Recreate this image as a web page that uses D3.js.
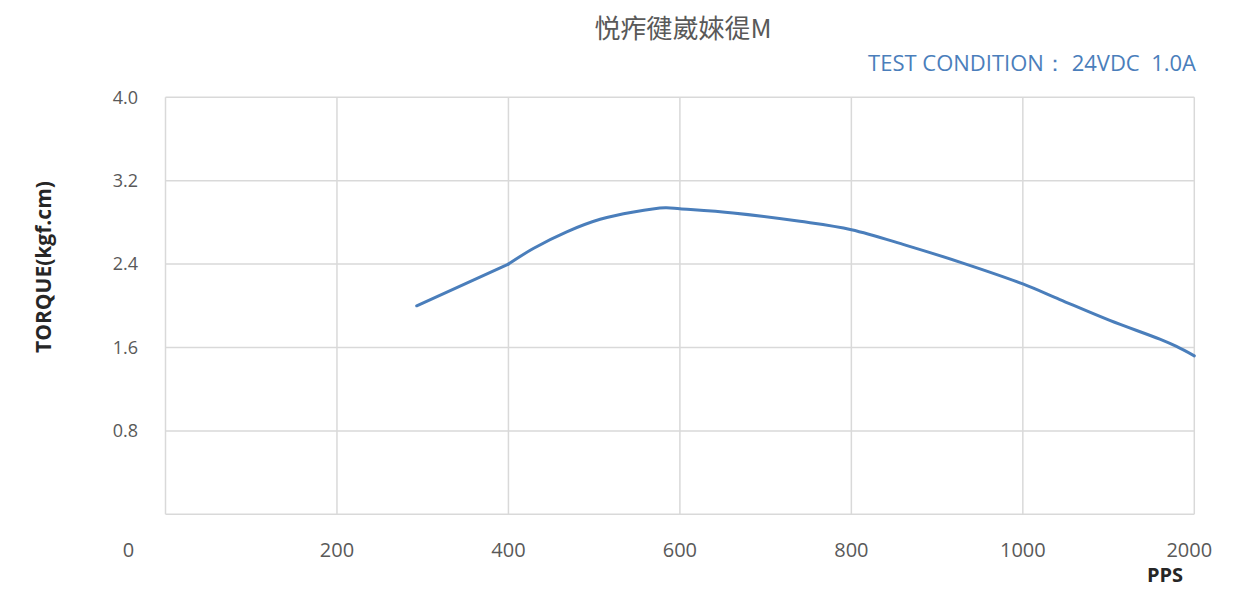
<!DOCTYPE html>
<html><head><meta charset="utf-8">
<script src="https://cdn.jsdelivr.net/npm/d3@7"></script>
<style>body{margin:0;background:#fff}svg{display:block}</style>
</head><body>
<svg id="c" width="1251" height="589"></svg>
<script>
const titleText = "悦痄徤崴婡徥M";
const conditionText = "TEST CONDITION： 24VDC  1.0A";
const xCategories = [0, 200, 400, 600, 800, 1000, 2000];
const xTickLabels = ["0", "200", "400", "600", "800", "1000", "2000"];
const yTicks = [0.8, 1.6, 2.4, 3.2, 4.0];
const pps =    [293, 400, 429, 468, 507, 546, 583, 600, 662, 740, 800, 864, 930, 1000, 1216, 1507, 1799, 1896, 2000];
const torque = [2.00, 2.40, 2.55, 2.71, 2.83, 2.90, 2.94, 2.93, 2.89, 2.81, 2.73, 2.58, 2.41, 2.21, 2.06, 1.86, 1.68, 1.61, 1.52];

const svg = d3.select("#c");
const L = 165.5, R = 1194.3, T = 97.3, B = 514.3;
const step = (R - L) / (xCategories.length - 1);
const x = d3.scaleLinear().domain(xCategories).range(xCategories.map((d, i) => L + i * step));
const y = d3.scaleLinear().domain([0, 4]).range([B, T]);
const grid = "#d9d9d9", txt = "#595959", blue = "#4a7ebb";
const font = "'Open Sans', 'Noto Sans', sans-serif";

// horizontal grid
svg.append("g").selectAll("line").data([0].concat(yTicks)).join("line")
  .attr("x1", L).attr("x2", R).attr("y1", d => y(d)).attr("y2", d => y(d))
  .attr("stroke", grid).attr("stroke-width", 1.5);
// vertical grid
svg.append("g").selectAll("line").data(xCategories).join("line")
  .attr("x1", d => x(d)).attr("x2", d => x(d)).attr("y1", T).attr("y2", B)
  .attr("stroke", grid).attr("stroke-width", 1.5);

// y tick labels
svg.append("g").selectAll("text").data(yTicks).join("text")
  .attr("x", 138).attr("y", d => y(d)).attr("dy", "0.35em")
  .attr("text-anchor", "end").attr("fill", txt)
  .style("font-family", font).style("font-size", "18px")
  .text(d => d.toFixed(1));

// x tick labels
svg.append("g").selectAll("text").data(xCategories).join("text")
  .attr("x", (d, i) => i === 0 ? x(d) - 37 : (i === xCategories.length - 1 ? x(d) - 5 : x(d)))
  .attr("y", 557)
  .attr("text-anchor", "middle").attr("fill", txt)
  .style("font-family", font).style("font-size", "20px")
  .text((d, i) => xTickLabels[i]);

// axis titles
svg.append("text").attr("transform", "translate(51,267) rotate(-90)")
  .attr("text-anchor", "middle").attr("fill", "#262626")
  .style("font-family", font).style("font-size", "21px").style("font-weight", "bold")
  .text("TORQUE(kgf.cm)");
svg.append("text").attr("x", 1165).attr("y", 582)
  .attr("text-anchor", "middle").attr("fill", "#262626")
  .style("font-family", font).style("font-size", "20px").style("font-weight", "bold")
  .text("PPS");

// titles
svg.append("text").attr("x", 683).attr("y", 38)
  .attr("text-anchor", "middle").attr("fill", txt)
  .style("font-family", "'Noto Sans CJK SC', 'Open Sans', sans-serif").style("font-size", "26px")
  .text(titleText);
svg.append("text").attr("x", 1196).attr("y", 71)
  .attr("text-anchor", "end").attr("fill", blue)
  .style("font-family", font).style("font-size", "22px").style("white-space", "pre")
  .text(conditionText);

// curve
const pts = pps.map((d, i) => [x(d), y(torque[i])]);
svg.append("path").attr("d", d3.line().curve(d3.curveLinear)(pts.slice(0, 2)))
  .attr("fill", "none").attr("stroke", blue).attr("stroke-width", 3).attr("stroke-linecap", "round");
svg.append("path").attr("d", d3.line().curve(d3.curveCatmullRom.alpha(0.5))(pts.slice(1)))
  .attr("fill", "none").attr("stroke", blue).attr("stroke-width", 3).attr("stroke-linecap", "round");
</script>
</body></html>
